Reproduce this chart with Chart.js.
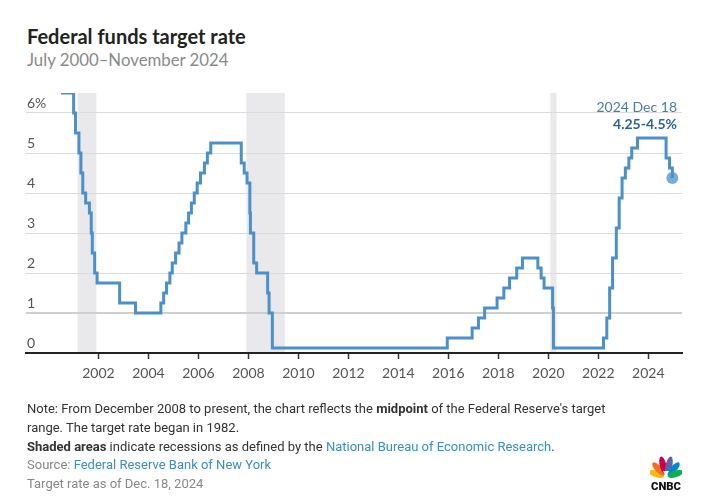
<!DOCTYPE html>
<html lang="en">
<head>
  <meta charset="UTF-8" />
  <title>Federal funds target rate</title>
  <script src="https://cdn.jsdelivr.net/npm/chart.js"></script>
  <style>
    html, body { margin: 0; padding: 0; background: #fff; }
    body { width: 709px; height: 498px; position: relative; overflow: hidden; font-family: Lato, "Open Sans", sans-serif; }
    .title { position: absolute; left: 27px; top: 24px; font-size: 20px; font-weight: 700; color: #222; }
    .subtitle { position: absolute; left: 27px; top: 49px; font-size: 16.8px; color: #8a8a8a; }
    .chart-box { position: absolute; left: 0; top: 0; width: 709px; height: 498px; }
    .notes { position: absolute; left: 27px; top: 400px; font-family: Roboto, "Liberation Sans", sans-serif; font-size: 13px; line-height: 18.8px; color: #333; }
    .notes .src { color: #888; }
    .notes a { color: #3b8ec2; text-decoration: none; }
    .logo { position: absolute; left: 650px; top: 456px; width: 32px; height: 36px; }
  </style>
</head>
<body>
  <div class="title">Federal funds target rate</div>
  <div class="subtitle">July 2000–November 2024</div>

  <div class="chart-box">
    <canvas id="rateChart" width="709" height="498"></canvas>
  </div>

  <div class="notes">
    Note: From December 2008 to present, the chart reflects the <b>midpoint</b> of the Federal Reserve's target<br>
    range. The target rate began in 1982.<br>
    <b>Shaded areas</b> indicate recessions as defined by the <a>National Bureau of Economic Research</a>.<br>
    <span class="src">Source: <a>Federal Reserve Bank of New York</a></span><br>
    <span class="src">Target rate as of Dec. 18, 2024</span>
  </div>

  <svg class="logo" viewBox="0 0 32 36">
    <g transform="translate(16,21)">
      <ellipse cx="0" cy="-10" rx="3.3" ry="8" fill="#fcb711" transform="rotate(-72)"/>
      <ellipse cx="0" cy="-11" rx="3.3" ry="8.5" fill="#f37021" transform="rotate(-43)"/>
      <ellipse cx="0" cy="-12" rx="3.3" ry="9" fill="#cc004c" transform="rotate(-14)"/>
      <ellipse cx="0" cy="-12" rx="3.3" ry="9" fill="#6460aa" transform="rotate(14)"/>
      <ellipse cx="0" cy="-11" rx="3.3" ry="8.5" fill="#0089d0" transform="rotate(43)"/>
      <ellipse cx="0" cy="-10" rx="3.3" ry="8" fill="#0db14b" transform="rotate(72)"/>
      <path d="M0,0 L-3,-6 L3,-6 Z" fill="#fff"/>
    </g>
    <text x="16" y="34" text-anchor="middle" font-family="Roboto, sans-serif" font-weight="900" font-size="11" textLength="30" lengthAdjust="spacingAndGlyphs" fill="#111">CNBC</text>
  </svg>

  <script>
    // Rate changes: date the new target took effect, and the rate (midpoint of range after Dec 2008)
    const changeDates = [
      '2000-07-01', '2001-01-03', '2001-01-31', '2001-03-20', '2001-04-18', '2001-05-15',
      '2001-06-27', '2001-08-21', '2001-09-17', '2001-10-02', '2001-11-06', '2001-12-11',
      '2002-11-06', '2003-06-25', '2004-06-30', '2004-08-10', '2004-09-21', '2004-11-10',
      '2004-12-14', '2005-02-02', '2005-03-22', '2005-05-03', '2005-06-30', '2005-08-09',
      '2005-09-20', '2005-11-01', '2005-12-13', '2006-01-31', '2006-03-28', '2006-05-10',
      '2006-06-29', '2007-09-18', '2007-10-31', '2007-12-11', '2008-01-22', '2008-01-30',
      '2008-03-18', '2008-04-30', '2008-10-08', '2008-10-29', '2008-12-16', '2015-12-16',
      '2016-12-14', '2017-03-15', '2017-06-14', '2017-12-13', '2018-03-21', '2018-06-13',
      '2018-09-26', '2018-12-19', '2019-07-31', '2019-09-18', '2019-10-30', '2020-03-03',
      '2020-03-15', '2022-03-16', '2022-05-04', '2022-06-15', '2022-07-27', '2022-09-21',
      '2022-11-02', '2022-12-14', '2023-02-01', '2023-03-22', '2023-05-03', '2023-07-26',
      '2024-09-18', '2024-11-07', '2024-12-18'
    ];
    const rates = [
      6.5, 6.0, 5.5, 5.0, 4.5, 4.0,
      3.75, 3.5, 3.0, 2.5, 2.0, 1.75,
      1.25, 1.0, 1.25, 1.5, 1.75, 2.0,
      2.25, 2.5, 2.75, 3.0, 3.25, 3.5,
      3.75, 4.0, 4.25, 4.5, 4.75, 5.0,
      5.25, 4.75, 4.5, 4.25, 3.5, 3.0,
      2.25, 2.0, 1.5, 1.0, 0.125, 0.375,
      0.625, 0.875, 1.125, 1.375, 1.625, 1.875,
      2.125, 2.375, 2.125, 1.875, 1.625, 1.125,
      0.125, 0.375, 0.875, 1.625, 2.375, 3.125,
      3.875, 4.375, 4.625, 4.875, 5.125, 5.375,
      4.875, 4.625, 4.375
    ];

    // NBER recessions
    const recessionStarts = ['2001-03-01', '2007-12-01', '2020-02-01'];
    const recessionEnds = ['2001-11-30', '2009-06-15', '2020-04-30'];

    const xTickYears = [2002, 2004, 2006, 2008, 2010, 2012, 2014, 2016, 2018, 2020, 2022, 2024];
    const yTickLabels = ['0', '1', '2', '3', '4', '5', '6%'];

    const lastLabelDate = '2024 Dec 18';
    const lastLabelRange = '4.25-4.5%';

    function toYear(s) {
      const p = s.split('-').map(Number);
      return p[0] + (p[1] - 1) / 12 + (p[2] - 1) / 365;
    }

    const lineColor = '#4b90c8';
    const points = changeDates.map((d, i) => ({ x: toYear(d), y: rates[i] }));
    const lastPoint = points[points.length - 1];

    // grey recession bands, drawn under everything
    const recessionPlugin = {
      id: 'recessions',
      beforeDraw(chart) {
        const { ctx, scales: { x, y } } = chart;
        ctx.save();
        ctx.fillStyle = '#e9e9eb';
        recessionStarts.forEach((s, i) => {
          const x0 = x.getPixelForValue(toYear(s));
          const x1 = x.getPixelForValue(toYear(recessionEnds[i]));
          const top = y.getPixelForValue(6.5);
          ctx.fillRect(x0, top, x1 - x0, y.getPixelForValue(0) - top);
        });
        ctx.restore();
      }
    };

    // label above the final point
    const endLabelPlugin = {
      id: 'endLabel',
      afterDatasetsDraw(chart) {
        const { ctx, chartArea } = chart;
        ctx.save();
        ctx.textAlign = 'right';
        ctx.textBaseline = 'alphabetic';
        ctx.font = '14px Lato, sans-serif';
        ctx.fillStyle = '#4c7da6';
        ctx.fillText(lastLabelDate, chartArea.right - 5, 112);
        ctx.font = 'bold 14px Lato, sans-serif';
        ctx.fillStyle = '#2b6394';
        ctx.fillText(lastLabelRange, chartArea.right - 5, 129);
        ctx.restore();
      }
    };

    const chart = new Chart(document.getElementById('rateChart'), {
      type: 'line',
      data: {
        datasets: [
          {
            data: points,
            borderColor: lineColor,
            borderWidth: 3,
            stepped: 'before',
            pointRadius: 0,
            fill: false
          },
          {
            data: [lastPoint],
            pointRadius: 6,
            pointBackgroundColor: 'rgba(100,165,215,0.9)',
            pointBorderWidth: 0,
            showLine: false
          }
        ]
      },
      options: {
        responsive: false,
        animation: false,
        layout: { padding: { left: 26, right: 27, top: 93, bottom: 115 } },
        plugins: {
          legend: { display: false },
          tooltip: { enabled: false }
        },
        scales: {
          x: {
            type: 'linear',
            min: 1999.1,
            max: 2025.35,
            afterBuildTicks: scale => { scale.ticks = xTickYears.map(v => ({ value: v })); },
            afterFit: scale => { scale.height = 30; },
            grid: { drawOnChartArea: false, drawTicks: true, tickLength: 6, tickColor: '#333', tickWidth: 1.5 },
            border: { display: true, color: '#222', width: 2 },
            ticks: {
              autoSkip: false,
              maxRotation: 0,
              padding: 6,
              color: '#555',
              font: { family: 'Lato', size: 14 },
              callback: v => String(v)
            }
          },
          y: {
            min: 0,
            max: 6.5,
            afterBuildTicks: scale => { scale.ticks = yTickLabels.map((t, i) => ({ value: i })); },
            afterFit: scale => { scale.width = 0; },
            grid: {
              drawTicks: false,
              color: ctx => ctx.tick && ctx.tick.value === 1 ? '#cfcfcf' : '#dcdcdc',
              lineWidth: ctx => ctx.tick && ctx.tick.value === 1 ? 2 : 1
            },
            border: { display: false },
            ticks: {
              mirror: true,
              padding: 1,
              labelOffset: -10,
              color: '#555',
              font: { family: 'Lato', size: 14 },
              callback: (v, i) => yTickLabels[i]
            }
          }
        }
      },
      plugins: [recessionPlugin, endLabelPlugin]
    });
  </script>
</body>
</html>
